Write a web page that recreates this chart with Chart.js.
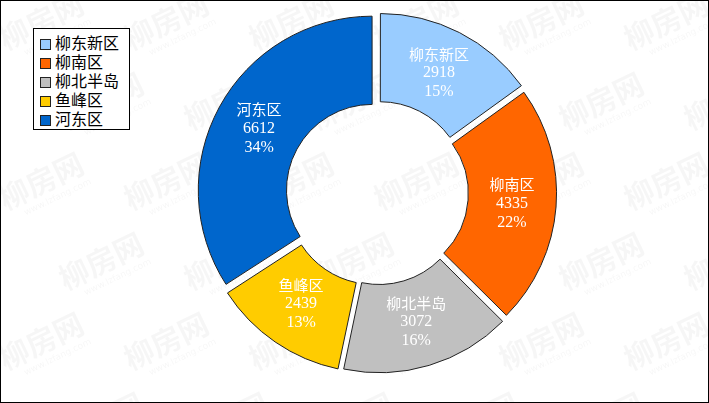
<!DOCTYPE html>
<html>
<head>
<meta charset="utf-8">
<script src="https://cdn.jsdelivr.net/npm/chart.js@4"></script>
<style>
  html, body { margin: 0; padding: 0; background: #fff; }
  #wrap { position: relative; width: 709px; height: 403px; box-sizing: border-box; border: 1px solid #000; }
  #chart { position: absolute; left: 0; top: 0; }
  #legend { position: absolute; left: 32px; top: 27px; width: 97px; height: 102px; border: 1px solid #000;
            box-sizing: border-box; background: #fff; padding: 4px 0 0 6px;
            font-family: "Noto Sans CJK SC", sans-serif; font-size: 16px; color: #000; }
  #legend div { height: 19px; line-height: 19px; white-space: nowrap; }
  #legend span { display: inline-block; width: 9px; height: 9px; border: 1px solid #222; margin-right: 4px; vertical-align: -1px; }
</style>
</head>
<body>
<div id="wrap">
  <canvas id="chart" width="707" height="401"></canvas>
  <div id="legend"></div>
</div>
<script>
// data
var districts = ["柳东新区", "柳南区", "柳北半岛", "鱼峰区", "河东区"];
var counts = [2918, 4335, 3072, 2439, 6612];
var sliceColors = ["#99CCFF", "#FF6600", "#C0C0C0", "#FFCC00", "#0066CC"];

var total = counts.reduce(function(a, b){ return a + b; }, 0);

// legend box
var legendHtml = "";
for (i = 0; i < districts.length; i++) {
  legendHtml += '<div><span style="background:' + sliceColors[i] + '"></span>' + districts[i] + '</div>';
}
document.getElementById("legend").innerHTML = legendHtml;

// faint watermark in the background
var watermark = {
  id: "watermark",
  beforeDraw: function(chart) {
    var ctx = chart.ctx;
    ctx.save();
    ctx.fillStyle = "rgba(0,0,0,0.035)";
    ctx.textAlign = "center";
    ctx.textBaseline = "middle";
    for (var row = 0; row < 6; row++) {
      for (var col = 0; col < 6; col++) {
        var x = 40 + col * 125 + (row % 2) * 60;
        var y = 20 + row * 80;
        ctx.save();
        ctx.translate(x, y);
        ctx.rotate(-0.45);
        ctx.font = "bold 30px 'Noto Sans CJK SC'";
        ctx.fillText("柳房网", 0, 0);
        ctx.font = "9px 'DejaVu Sans'";
        ctx.fillText("www.lzfang.com", 8, 22);
        ctx.restore();
      }
    }
    ctx.restore();
  }
};

// labels inside slices
var sliceLabels = {
  id: "sliceLabels",
  afterDatasetsDraw: function(chart) {
    var ctx = chart.ctx;
    var meta = chart.getDatasetMeta(0);
    ctx.save();
    ctx.fillStyle = "#fff";
    ctx.textAlign = "center";
    ctx.textBaseline = "middle";
    meta.data.forEach(function(arc, i) {
      var p = arc.getProps(["x", "y", "startAngle", "endAngle", "innerRadius", "outerRadius"], true);
      var mid = (p.startAngle + p.endAngle) / 2;
      var r = (p.innerRadius + p.outerRadius) / 2 + 6;
      var cx = p.x + Math.cos(mid) * r;
      var cy = p.y + Math.sin(mid) * r;
      ctx.font = "15px 'Noto Sans CJK SC'";
      ctx.fillText(districts[i], cx, cy - 19);
      ctx.font = "16px 'Liberation Serif'";
      ctx.fillText(String(counts[i]), cx, cy);
      ctx.fillText(Math.round(counts[i] / total * 100) + "%", cx, cy + 19);
    });
    ctx.restore();
  }
};

new Chart("chart", {
  type: "doughnut",
  data: {
    labels: districts,
    datasets: [{
      data: counts,
      backgroundColor: sliceColors,
      borderColor: "#222",
      borderWidth: 1,
      offset: 24,
      hoverOffset: 24
    }]
  },
  options: {
    responsive: false,
    animation: false,
    cutout: "49%",
    layout: { padding: { left: 46, right: 0, top: 6.5, bottom: 23.5 } },
    plugins: {
      legend: { display: false },
      tooltip: { enabled: false }
    }
  },
  plugins: [watermark, sliceLabels]
});
</script>
</body>
</html>
